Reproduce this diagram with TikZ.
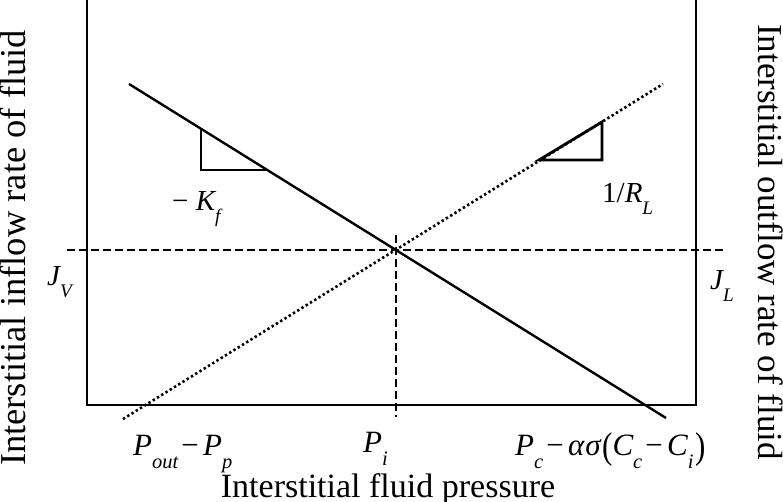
\documentclass[tikz,border=0pt]{standalone}
\usepackage{fontspec}
\setmainfont{Liberation Serif}
\usepackage{graphicx}
\newcommand{\lsub}[1]{\raisebox{-0.4em}{\scalebox{0.66}{\itshape #1}}}
\newcommand{\mminus}{\hspace{0.1em}−\hspace{0.14em}}
\newcommand{\bigparen}[1]{\raisebox{-0.08em}{\scalebox{1}[1.2]{#1}}}
\begin{document}
\begin{tikzpicture}[x=1pt,y=1pt,
  axis/.style={line width=2.8pt, line join=miter},
  solidline/.style={line width=2.4pt},
  dotline/.style={line width=2.6pt, dash pattern=on 2.4pt off 2.6pt},
  dashline/.style={line width=1.8pt, dash pattern=on 8pt off 4pt},
  tri/.style={line width=2.8pt, line join=miter},
  biglabel/.style={font=\fontsize{34}{40}\selectfont, inner sep=0pt},
  mathlabel/.style={font=\fontsize{31}{36}\selectfont, inner sep=0pt, anchor=base west},
  jlabel/.style={font=\fontsize{29}{34}\selectfont, inner sep=0pt, anchor=base west},
  slabel/.style={font=\fontsize{29}{34}\selectfont, inner sep=0pt, anchor=base west}]
\useasboundingbox (0,0) rectangle (783,502);
% axes
\coordinate (tl) at (87,504);
\coordinate (bl) at (87,97);
\coordinate (br) at (696,97);
\coordinate (tr) at (696,504);
\draw[axis] (tl) -- (bl) -- (br) -- (tr);
% guide lines
\coordinate (hl) at (67,252);
\coordinate (hr) at (726,252);
\coordinate (vt) at (396,267);
\coordinate (vb) at (396,85);
\draw[dashline] (hl) -- (hr);
\draw[dashline] (vt) -- (vb);
% curves
\coordinate (d1) at (123,83);
\coordinate (d2) at (663,418);
\coordinate (s1) at (129,418);
\coordinate (s2) at (666,84);
\draw[dotline] (d1) -- (d2);
\draw[solidline] (s1) -- (s2);
% slope triangles
\coordinate (k1) at (201,373);
\coordinate (k2) at (201,332);
\coordinate (k3) at (267,332);
\draw[tri] (k1) -- (k2) -- (k3);
\coordinate (r1) at (539,342);
\coordinate (r2) at (602,380);
\coordinate (r3) at (602,342);
\draw[tri] (r1) -- (r2) -- (r3) -- cycle;
% labels
\node[slabel] (kf) at (172,291) {−\hspace{0.25em}{\itshape K}\lsub{f}};
\node[slabel] (rl) at (602,299) {1/{\itshape R}\lsub{L}};
\node[jlabel] (jv) at (47,216) {{\itshape J}\lsub{V}};
\node[jlabel] (jl) at (710,212) {{\itshape J}\lsub{L}};
\node[mathlabel] (pp) at (133,46) {{\itshape P}\lsub{out}\mminus{\itshape P}\lsub{p}};
\node[mathlabel] (pi) at (363,49) {{\itshape P}\lsub{i}};
\node[mathlabel] (pc) at (515,46) {{\itshape P}\lsub{c}\mminus{\itshape α\hspace{0.03em}σ}\hspace{0.05em}\bigparen{(}{\itshape C}\lsub{c}\mminus{\itshape C}\lsub{i}\hspace{0.05em}\bigparen{)}};
\node[biglabel, anchor=base] (xl) at (388,4) {Interstitial fluid pressure};
\node[biglabel, anchor=base, rotate=90, font=\fontsize{36.5}{42}\selectfont] (yl) at (25,254) {Interstitial inflow rate of fluid};
\node[biglabel, anchor=base, rotate=-90, font=\fontsize{35}{42}\selectfont] (yr) at (758,260) {Interstitial outflow rate of fluid};
\end{tikzpicture}
\end{document}
